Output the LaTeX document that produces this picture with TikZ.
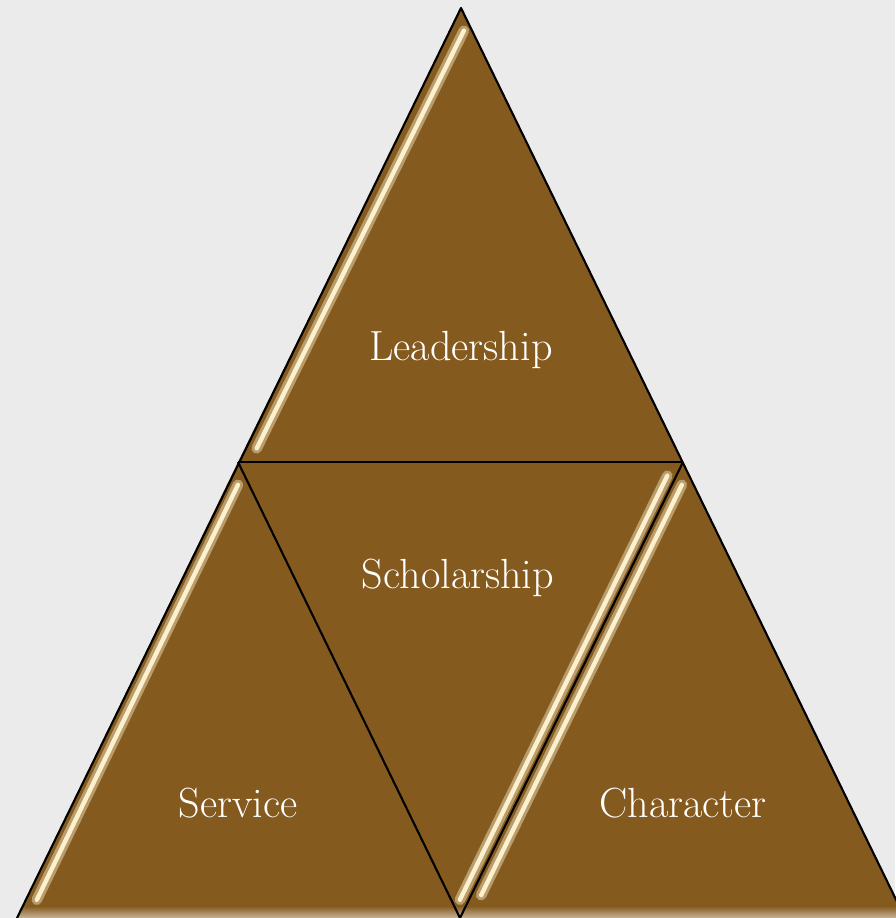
\documentclass[tikz,border=0pt]{standalone}
\usepackage{tikz}
\usetikzlibrary{calc}

\definecolor{bgray}{RGB}{235,235,235}
\definecolor{bronze}{RGB}{132,90,30}
\definecolor{shine}{RGB}{252,240,205}

\begin{document}
\begin{tikzpicture}[x=0.02cm, y=-0.02cm, line join=round]
  \tikzset{
    face/.style={fill=bronze},
    edge/.style={draw=black, line width=1.2pt},
    glow/.style={draw=shine!45!bronze, line width=6pt, line cap=round},
    gleam/.style={draw=shine, line width=2.5pt, line cap=round},
    word/.style={text=white, font=\fontsize{24}{28}\selectfont}
  }
  \useasboundingbox (0,0) rectangle (895,918);
  \fill [bgray] (0,0) rectangle (895,918);
  % corners of the pyramid
  \coordinate (top) at (461,8);
  \coordinate (midL) at (238,462);
  \coordinate (midR) at (683,462);
  \coordinate (botL) at (17,918);
  \coordinate (botM) at (460,918);
  \coordinate (botR) at (905,918);
  % the four faces
  \fill [face] (top) -- (midL) -- (midR) -- cycle;
  \fill [face] (midL) -- (botL) -- (botM) -- cycle;
  \fill [face] (midL) -- (midR) -- (botM) -- cycle;
  \fill [face] (midR) -- (botM) -- (botR) -- cycle;
  % lighter rim along the bottom
  \begin{scope}
    \clip (top) -- (botL) -- (botR) -- cycle;
    \shade [top color=bronze, bottom color=bronze!45!white] (0,906) rectangle (905,918);
  \end{scope}
  % shiny bevels
  \foreach \s in {glow, gleam} {
    \draw [\s] ($(top)!0.05!(midL) + (14,0)$) -- ($(top)!0.97!(midL) + (12,0)$);
    \draw [\s] ($(midL)!0.05!(botL) + (11,0)$) -- ($(midL)!0.96!(botL) + (11,0)$);
    \draw [\s] ($(midR)!0.03!(botM) + (-9,0)$) -- ($(midR)!0.96!(botM) + (-9,0)$);
    \draw [\s] ($(midR)!0.05!(botM) + (10,0)$) -- ($(midR)!0.95!(botM) + (10,0)$);
  }
  % outlines
  \draw [edge] (botL) -- (top) -- (botR);
  \draw [edge] (midL) -- (midR);
  \draw [edge] (midL) -- (botM) -- (midR);
  % labels
  \node [word] (lead) at (461,350) {Leadership};
  \node [word] (schol) at (458,578) {Scholarship};
  \node [word] (serv) at (238,803) {Service};
  \node [word] (char) at (683,803) {Character};
\end{tikzpicture}
\end{document}
